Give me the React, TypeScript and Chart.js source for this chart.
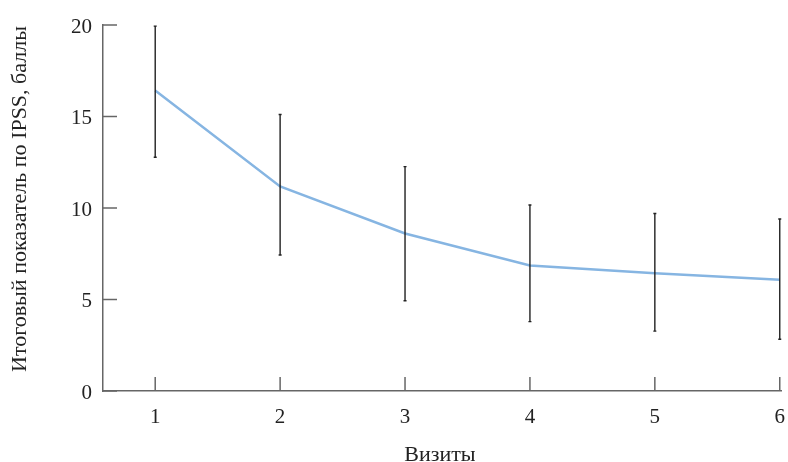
import React, { useEffect, useRef } from "react";
import { Chart, registerables } from "chart.js";

Chart.register(...registerables);

const visits = [1, 2, 3, 4, 5, 6];
const means = [16.42, 11.18, 8.61, 6.86, 6.44, 6.08];
const lowerErr = [12.77, 7.43, 4.93, 3.79, 3.27, 2.83];
const upperErr = [19.94, 15.11, 12.26, 10.16, 9.7, 9.4];
const yTicks = [0, 5, 10, 15, 20];
const xTitle = "Визиты";
const yTitle = "Итоговый показатель по IPSS, баллы";

const FONT = "'Liberation Serif', 'DejaVu Serif', serif";

const decorPlugin = {
  id: "decor",
  afterDatasetsDraw(chart: any) {
    const { ctx, scales, chartArea } = chart;
    const xs = scales.x;
    const ys = scales.y;
    ctx.save();
    // inside ticks
    ctx.strokeStyle = "#666666";
    ctx.lineWidth = 1.5;
    yTicks.forEach((v) => {
      const y = ys.getPixelForValue(v);
      ctx.beginPath();
      ctx.moveTo(chartArea.left, y);
      ctx.lineTo(chartArea.left + 14, y);
      ctx.stroke();
    });
    visits.forEach((v) => {
      const x = xs.getPixelForValue(v);
      ctx.beginPath();
      ctx.moveTo(x, chartArea.bottom);
      ctx.lineTo(x, chartArea.bottom - 14);
      ctx.stroke();
    });
    // error bars
    ctx.strokeStyle = "#222222";
    ctx.lineWidth = 1.4;
    visits.forEach((v, i) => {
      const x = xs.getPixelForValue(v);
      const y1 = ys.getPixelForValue(lowerErr[i]);
      const y2 = ys.getPixelForValue(upperErr[i]);
      ctx.beginPath();
      ctx.moveTo(x, y1);
      ctx.lineTo(x, y2);
      ctx.moveTo(x - 1.5, y1);
      ctx.lineTo(x + 1.5, y1);
      ctx.moveTo(x - 1.5, y2);
      ctx.lineTo(x + 1.5, y2);
      ctx.stroke();
    });
    // axis titles
    ctx.fillStyle = "#222222";
    ctx.font = `22px ${FONT}`;
    ctx.textAlign = "center";
    ctx.textBaseline = "alphabetic";
    ctx.fillText(xTitle, (chartArea.left + chartArea.right) / 2 - 2, 461);
    ctx.textBaseline = "middle";
    ctx.translate(20, (chartArea.top + chartArea.bottom) / 2 - 9);
    ctx.rotate(-Math.PI / 2);
    ctx.fillText(yTitle, 0, 0);
    ctx.restore();
  },
};

export default function App() {
  const ref = useRef<HTMLCanvasElement | null>(null);
  useEffect(() => {
    if (!ref.current) return;
    const chart = new Chart(ref.current, {
      type: "line",
      data: {
        datasets: [
          {
            data: visits.map((v, i) => ({ x: v, y: means[i] })),
            borderColor: "#86b5e2",
            borderWidth: 2.5,
            pointRadius: 0,
            tension: 0,
            fill: false,
          },
        ],
      },
      options: {
        animation: false,
        responsive: true,
        maintainAspectRatio: false,
        layout: { padding: { left: 0, right: 7, top: 25, bottom: 0 } },
        plugins: { legend: { display: false }, tooltip: { enabled: false } },
        scales: {
          x: {
            type: "linear",
            min: 0.582,
            max: 6.01,
            afterBuildTicks: (s: any) => {
              s.ticks = visits.map((v) => ({ value: v }));
            },
            afterFit: (s: any) => {
              s.height = 71;
              s.paddingLeft = 0;
              s.paddingRight = 0;
            },
            grid: { display: false, drawTicks: false },
            border: { display: true, color: "#666666", width: 1.5 },
            ticks: {
              color: "#222222",
              font: { family: FONT, size: 21 },
              padding: 14,
              maxRotation: 0,
              callback: (v: any) => String(v),
            },
          },
          y: {
            type: "linear",
            min: 0,
            max: 20,
            afterBuildTicks: (s: any) => {
              s.ticks = yTicks.map((v) => ({ value: v }));
            },
            afterFit: (s: any) => {
              s.width = 103;
              s.paddingTop = 0;
              s.paddingBottom = 0;
            },
            grid: { display: false, drawTicks: false },
            border: { display: true, color: "#666666", width: 1.5 },
            ticks: {
              color: "#222222",
              font: { family: FONT, size: 21 },
              padding: 11,
              labelOffset: 2,
            },
          },
        },
      },
      plugins: [decorPlugin],
    });
    return () => chart.destroy();
  }, []);
  return (
    <div style={{ position: "fixed", left: 0, top: 0, width: 788, height: 462, background: "#fff" }}>
      <canvas ref={ref} />
    </div>
  );
}
